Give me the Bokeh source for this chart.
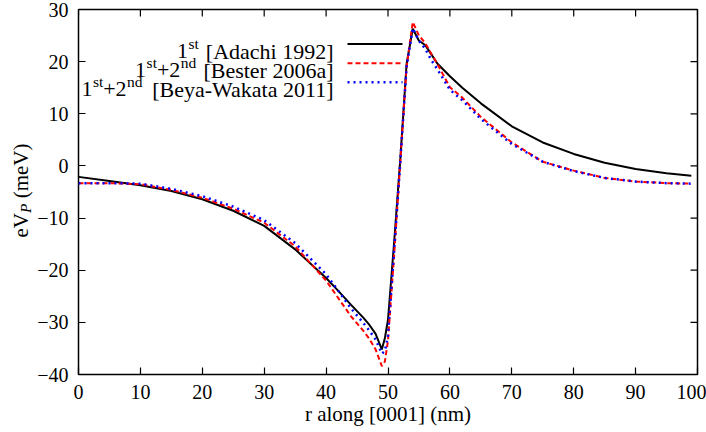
import math
from bokeh.plotting import figure
from bokeh.layouts import row
from bokeh.models import Label, Arrow, FixedTicker, Range1d
from bokeh.embed import file_html
from bokeh.resources import INLINE

# ---- data ----
r = [0, 5, 10, 15, 20, 25, 30, 35, 40, 42, 44, 46, 47, 48, 49, 49.5, 50, 51, 52, 53,
     54, 55, 56, 57, 58, 60, 62, 65, 70, 75, 80, 85, 90, 95, 99]
adachi = [-2.1, -2.9, -3.7, -4.8, -6.4, -8.6, -11.5, -16.0, -21.5, -24.0, -26.6, -29.1,
          -30.5, -32.2, -35.2, -33.0, -29.5, -14.5, 1.5, 19.5,
          26.3, 24.0, 23.2, 21.4, 19.6, 17.2, 15.0, 12.0, 7.6, 4.5, 2.3, 0.6, -0.6, -1.4, -1.9]
bester = [-3.3, -3.3, -3.5, -4.6, -6.1, -8.2, -10.9, -15.4, -22.0, -25.4, -28.8, -31.6,
          -33.2, -35.2, -38.4, -37.5, -33.5, -17.0, 1.0, 19.0,
          27.6, 25.0, 23.6, 21.5, 19.5, 15.1, 13.1, 9.4, 4.5, 0.8, -0.9, -2.3, -3.0, -3.3, -3.4]
beya = [-3.3, -3.3, -3.4, -4.4, -5.8, -7.8, -10.4, -14.8, -20.8, -24.0, -27.3, -30.1,
        -31.6, -33.3, -36.0, -35.5, -32.5, -16.0, 1.0, 19.0,
        26.4, 24.0, 22.5, 20.3, 18.5, 14.6, 12.6, 9.0, 4.2, 0.8, -1.0, -2.3, -3.0, -3.3, -3.4]

x_ticks = [0, 10, 20, 30, 40, 50, 60, 70, 80, 90, 100]
y_ticks = [-40, -30, -20, -10, 0, 10, 20, 30]

# legend entries: list of (text, is_superscript) pieces
legend_entries = [
    [("1", False), ("st", True), ("[Adachi 1992]", False)],
    [("1", False), ("st", True), ("+2", False), ("nd", True), ("[Bester 2006a]", False)],
    [("1", False), ("st", True), ("+2", False), ("nd", True), ("[Beya-Wakata 2011]", False)],
]
legend_styles = [("black", 2, "solid"), ("red", 2, "5 3"), ("blue", 2.5, "2 4")]
x_title = "r along [0001] (nm)"
y_title = [("eV", False), ("P", True), ("(meV)", False)]

FONT = "Liberation Serif"
MAIN = 21
LEG = 22
SMALL = 15.5

# Times / Liberation Serif advance widths (per 1000 em) for width estimates
W = {" ": 250, "[": 333, "]": 333, "A": 722, "B": 667, "W": 944, "P": 611, "V": 722,
     "a": 444, "c": 444, "d": 500, "e": 444, "h": 500, "i": 278, "k": 500, "m": 778,
     "n": 500, "r": 333, "s": 389, "t": 278, "y": 500, "-": 333, "+": 564,
     "(": 333, ")": 333}
def text_w(s, size):
    return sum(W.get(ch, 500) for ch in s) * size / 1000.0

FRAME_L, FRAME_R, FRAME_T, FRAME_B = 78, 697, 9, 374
TOTAL_W, H = 706, 432

# ---- left strip holding the rotated y-axis title ----
LW = 33
left = figure(width=LW, height=H, output_backend="svg", toolbar_location=None,
              x_range=Range1d(0, 1), y_range=Range1d(0, 1),
              x_axis_location=None, y_axis_location=None,
              min_border_left=0, min_border_right=0, min_border_top=FRAME_T,
              min_border_bottom=H - FRAME_B)
left.grid.visible = False
left.outline_line_color = None

ang = math.pi / 2
total = text_w("eV", MAIN) + text_w("P", SMALL) + text_w(" ", MAIN) + text_w("(meV)", MAIN)
ypos = (FRAME_B - 190) - total / 2.0
center_x = 20
for t, sub in y_title:
    size = SMALL if sub else MAIN
    left.add_layout(Label(x=center_x + (5 if sub else 0), y=ypos, x_units="screen", y_units="screen",
                          angle=ang, text=t, text_align="left", text_baseline="middle",
                          text_font=FONT, text_font_size=f"{size}px",
                          text_font_style="italic" if sub else "normal", text_color="black"))
    ypos += text_w(t, size)
    if sub:
        ypos += text_w(" ", MAIN)

# ---- main plot ----
p = figure(width=TOTAL_W - LW, height=H, output_backend="svg", toolbar_location=None,
           x_range=Range1d(x_ticks[0], x_ticks[-1]), y_range=Range1d(y_ticks[0], y_ticks[-1]),
           min_border_left=FRAME_L - LW, min_border_right=TOTAL_W - FRAME_R,
           min_border_top=FRAME_T, min_border_bottom=H - FRAME_B)
p.grid.visible = False
p.outline_line_color = "black"
p.outline_line_width = 1.5

for ax, ticks in ((p.xaxis[0], x_ticks), (p.yaxis[0], y_ticks)):
    ax.ticker = FixedTicker(ticks=ticks)
    ax.major_tick_in = 7
    ax.major_tick_out = 0
    ax.minor_tick_line_color = None
    ax.axis_line_color = None
    ax.major_tick_line_color = "black"
    ax.major_tick_line_width = 1.2
    ax.major_label_text_font = FONT
    ax.major_label_text_font_size = "20px"
    ax.major_label_text_color = "black"

p.xaxis[0].major_label_standoff = 10
p.yaxis[0].major_label_standoff = 10
p.xaxis[0].axis_label = x_title
p.xaxis[0].axis_label_text_font = FONT
p.xaxis[0].axis_label_text_font_size = f"{MAIN}px"
p.xaxis[0].axis_label_text_font_style = "normal"
p.xaxis[0].axis_label_text_color = "black"
p.xaxis[0].axis_label_standoff = 0

# mirrored inward ticks on top and right edges
p.ray(x=x_ticks, y=[y_ticks[-1]] * len(x_ticks), length=7, length_units="screen",
      angle=-math.pi / 2, line_color="black", line_width=1.2)
p.ray(x=[x_ticks[-1]] * len(y_ticks), y=y_ticks, length=7, length_units="screen",
      angle=math.pi, line_color="black", line_width=1.2)

series = [adachi, bester, beya]
for vals, (col, lw, dash) in zip(series, legend_styles):
    p.line(r, vals, line_color=col, line_width=lw, line_dash=dash)

# legend: right-aligned text, sample line to its right
TEXT_RIGHT = 333 - FRAME_L
SAMPLE_X0, SAMPLE_X1 = 347 - FRAME_L, 402 - FRAME_L
row_y = [FRAME_B - 43.5, FRAME_B - 62.7, FRAME_B - 81.7]
for entry, (col, lw, dash), yy in zip(legend_entries, legend_styles, row_y):
    xr = TEXT_RIGHT
    for k in range(len(entry) - 1, -1, -1):
        t, sup = entry[k]
        size = SMALL if sup else LEG
        p.add_layout(Label(x=xr, y=yy - 7 + (8 if sup else 0), x_units="screen", y_units="screen",
                           text=t, text_align="right", text_baseline="alphabetic",
                           text_font=FONT, text_font_size=f"{size}px", text_color="black"))
        xr -= text_w(t, size)
        if k == len(entry) - 1:
            xr -= 7
        elif sup:
            xr -= 0.5
    p.add_layout(Arrow(x_start=SAMPLE_X0, y_start=yy, x_end=SAMPLE_X1, y_end=yy,
                       start_units="screen", end_units="screen", start=None, end=None,
                       line_color=col, line_width=lw, line_dash=dash))

layout = row(left, p, spacing=0)
open("out.html", "w").write(file_html(layout, INLINE))
